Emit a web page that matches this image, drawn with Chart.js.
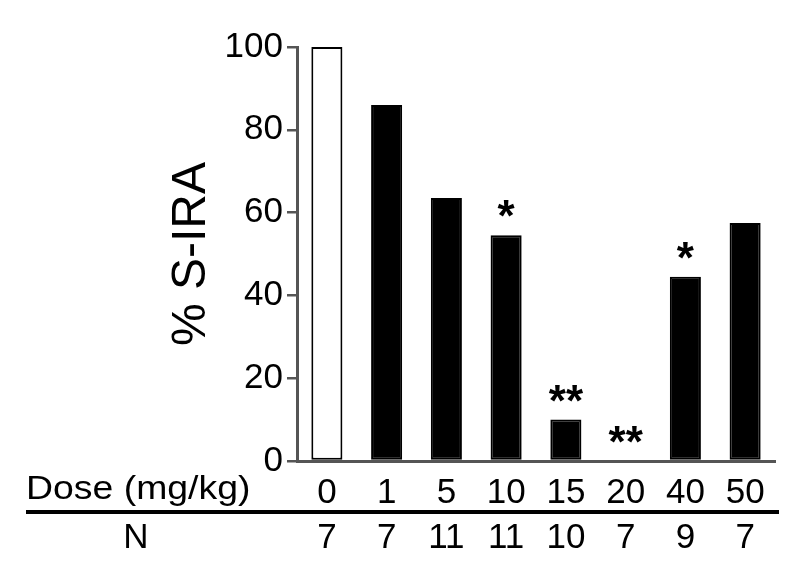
<!DOCTYPE html>
<html>
<head>
<meta charset="utf-8">
<script src="https://cdn.jsdelivr.net/npm/chart.js@4.4.0/dist/chart.umd.min.js"></script>
<style>
  html, body { margin: 0; padding: 0; background: #fff; }
  #wrap { width: 800px; height: 569px; }
</style>
</head>
<body>
<div id="wrap"><canvas id="SiraChart" width="800" height="569"></canvas></div>
<script>
// data
var doses = ['0', '1', '5', '10', '15', '20', '40', '50'];
var siraPercent = [100, 86, 63.5, 54.5, 10, 0, 44.5, 57.5];
var nAnimals = [7, 7, 11, 11, 10, 7, 9, 7];
var significance = ['', '', '', '*', '**', '**', '*', ''];
var yTicks = [0, 20, 40, 60, 80, 100];

var fontFamily = "'Liberation Sans', Arial, sans-serif";
Chart.defaults.font.family = fontFamily;
Chart.defaults.color = '#000';

var barColors = [];
for (var i = 0; i < doses.length; i++) {
    barColors.push(i == 0 ? '#ffffff' : '#000000');
}

// stars, the Dose / N table under the axis
var tablePlugin = {
    id: 'doseTable',
    afterDraw: function(chart) {
        var ctx = chart.ctx;
        var x = chart.scales.x;
        var y = chart.scales.y;
        ctx.save();
        ctx.fillStyle = '#000';

        ctx.font = 'bold 44px ' + fontFamily;
        ctx.textAlign = 'center';
        ctx.textBaseline = 'alphabetic';
        for (var i = 0; i < significance.length; i++) {
            if (!significance[i]) continue;
            ctx.fillText(significance[i], x.getPixelForValue(i), y.getPixelForValue(siraPercent[i]) - 4);
        }

        // the label in the figure is a bit wider than the font
        ctx.font = '34px ' + fontFamily;
        ctx.textAlign = 'left';
        ctx.save();
        ctx.translate(26, 499);
        ctx.scale(1.1, 1);
        ctx.fillText('Dose (mg/kg)', 0, 0);
        ctx.restore();

        ctx.strokeStyle = '#000';
        ctx.lineWidth = 4;
        ctx.beginPath();
        ctx.moveTo(26, 512);
        ctx.lineTo(779, 512);
        ctx.stroke();

        ctx.font = '35px ' + fontFamily;
        ctx.textAlign = 'center';
        ctx.textBaseline = 'middle';
        ctx.fillText('N', 136, 538);
        for (var i = 0; i < nAnimals.length; i++) {
            ctx.fillText(String(nAnimals[i]), x.getPixelForValue(i), 538);
        }
        ctx.restore();
    }
};

var siraChart = new Chart(document.getElementById('SiraChart').getContext('2d'), {
    type: 'bar',
    data: {
        labels: doses,
        datasets: [
            {
                label: '% S-IRA',
                data: siraPercent,
                backgroundColor: barColors,
                borderColor: '#000',
                borderWidth: 2,
                borderSkipped: false,
                barPercentage: 0.52,
                categoryPercentage: 1
            }
        ]
    },
    options: {
        responsive: false,
        animation: false,
        layout: { padding: { left: 160, right: 25, top: 47, bottom: 0 } },
        plugins: {
            legend: { display: false },
            tooltip: { enabled: false }
        },
        scales: {
            x: {
                grid: { display: false, drawTicks: false },
                border: { display: true, color: '#555', width: 3 },
                ticks: { font: { size: 35 }, color: '#000', padding: 11, maxRotation: 0 },
                afterFit: function(scale) { scale.height = 108; }
            },
            y: {
                min: 0,
                max: 100,
                afterBuildTicks: function(scale) {
                    scale.ticks = yTicks.map(function(v) { return { value: v }; });
                },
                grid: { drawOnChartArea: false, drawTicks: true, tickLength: 10, color: '#555', lineWidth: 2.5 },
                border: { display: true, color: '#555', width: 3 },
                ticks: { font: { size: 35 }, color: '#000', padding: 4 },
                title: {
                    display: true,
                    text: '% S-IRA',
                    font: { size: 48 },
                    color: '#000',
                    padding: { top: 3, bottom: 0 }
                },
                afterFit: function(scale) { scale.width = 137; }
            }
        }
    },
    plugins: [tablePlugin]
});
</script>
</body>
</html>
